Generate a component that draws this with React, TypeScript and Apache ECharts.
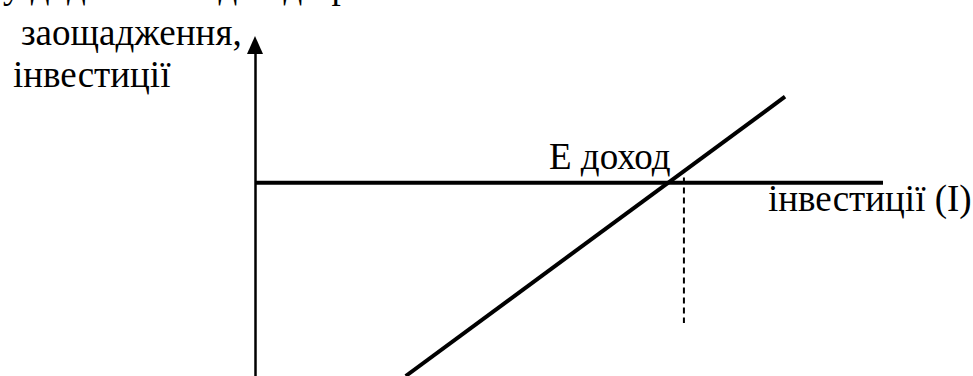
import React, { useEffect, useRef } from "react";
import * as echarts from "echarts";

// Data (chart units)
const xDomain = [0, 10];
const yDomain = [0, 8];
const investmentLine = [
  [0, 4.67],
  [10, 4.67],
];
const savingLine = [
  [2.4, 0],
  [8.44, 6.75],
];
const equilibriumDrop = [
  [6.83, 4.8],
  [6.83, 1.28],
];
const labels = {
  topCut: "у додатковий дохід при",
  yTitle1: "заощадження,",
  yTitle2: "інвестиції",
  eLabel: "E доход",
  iLabel: "інвестиції (I)",
};

const FONT = "Times New Roman";
const FS = 37;

export default function App() {
  const ref = useRef<HTMLDivElement>(null);
  useEffect(() => {
    if (!ref.current) return;
    const chart = echarts.init(ref.current, null, { renderer: "svg" });
    const txt = (text: string, x: number, baseline: number) => ({
      type: "text",
      x,
      y: baseline - FS * 0.3375,
      style: {
        text,
        fill: "#000",
        fontFamily: FONT,
        fontSize: FS,
        fontWeight: "normal",
        textAlign: "left",
        verticalAlign: "middle",
      },
    });
    chart.setOption({
      animation: false,
      backgroundColor: "#fff",
      grid: { left: 255, right: 973 - 883, top: 45, bottom: 0, containLabel: false },
      xAxis: {
        type: "value",
        min: xDomain[0],
        max: xDomain[1],
        show: false,
      },
      yAxis: {
        type: "value",
        min: yDomain[0],
        max: yDomain[1],
        axisLine: {
          show: true,
          onZero: false,
          symbol: ["none", "triangle"],
          symbolSize: [16, 18],
          symbolOffset: [0, 0],
          lineStyle: { color: "#000", width: 2.5 },
        },
        axisTick: { show: false },
        axisLabel: { show: false },
        splitLine: { show: false },
      },
      series: [
        {
          type: "line",
          data: investmentLine,
          symbol: "none",
          lineStyle: { color: "#000", width: 4 },
          silent: true,
        },
        {
          type: "line",
          data: savingLine,
          symbol: "none",
          lineStyle: { color: "#000", width: 4 },
          silent: true,
        },
        {
          type: "line",
          data: equilibriumDrop,
          symbol: "none",
          lineStyle: { color: "#000", width: 2, type: [6, 4] },
          silent: true,
        },
      ],
      graphic: {
        elements: [
          txt(labels.topCut, 3, -2),
          txt(labels.yTitle1, 21, 45),
          txt(labels.yTitle2, 13, 87),
          txt(labels.eLabel, 549, 169),
          txt(labels.iLabel, 768, 211),
        ],
      },
    });
    return () => chart.dispose();
  }, []);
  return (
    <div
      ref={ref}
      style={{ position: "fixed", left: 0, top: 0, width: 973, height: 376, background: "#fff" }}
    />
  );
}
